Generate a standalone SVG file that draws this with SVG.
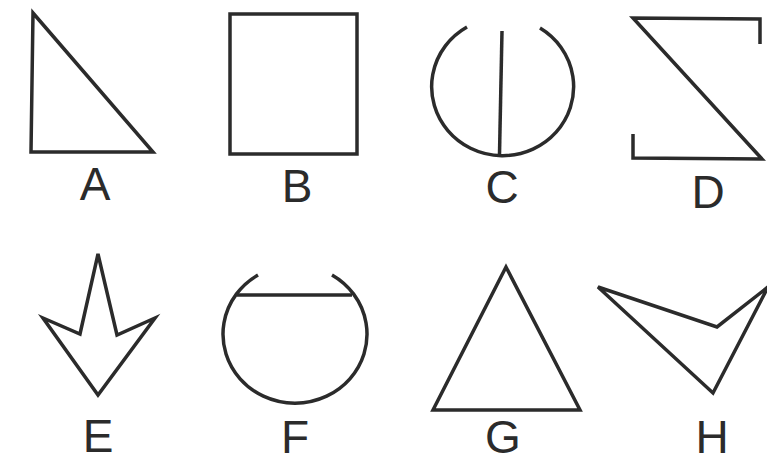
<svg xmlns="http://www.w3.org/2000/svg" width="767" height="465" viewBox="0 0 767 465">
<style>
.s{fill:none;stroke:#2b2b2b;stroke-width:3.5;stroke-linejoin:miter;stroke-linecap:butt}
.t{font-family:"Liberation Sans",Arial,sans-serif;font-size:46px;fill:#2b2b2b;text-anchor:middle}
</style>
<rect width="767" height="465" fill="#ffffff"/>
<g id="A">
<polygon class="s" points="33,13 31,152 153,152"/>
<text class="t" x="95" y="200">A</text>
</g>
<g id="B">
<rect class="s" x="230" y="14" width="127" height="140"/>
<text class="t" x="297" y="202">B</text>
</g>
<g id="C">
<path class="s" d="M467,27 A71,69 0 1 0 540,28"/>
<line class="s" x1="502" y1="31" x2="499.5" y2="154"/>
<text class="t" x="502" y="203">C</text>
</g>
<g id="D">
<polyline class="s" points="760,44 760,19 633,18 762,159 633,158 633,134"/>
<text class="t" x="708" y="208">D</text>
</g>
<g id="E">
<polygon class="s" points="98,254 80,334 43,318 98,395 155,318 117,335"/>
<text class="t" x="98" y="452">E</text>
</g>
<g id="F">
<path class="s" d="M258,275 A72,69 0 1 0 332,275"/>
<line class="s" x1="237" y1="295" x2="352" y2="295"/>
<text class="t" x="295" y="453">F</text>
</g>
<g id="G">
<polygon class="s" points="506,267 433,410 580,410"/>
<text class="t" x="503" y="453">G</text>
</g>
<g id="H">
<polygon class="s" points="598,287 717,327 768,287 713,393"/>
<text class="t" x="712" y="453">H</text>
</g>
</svg>
